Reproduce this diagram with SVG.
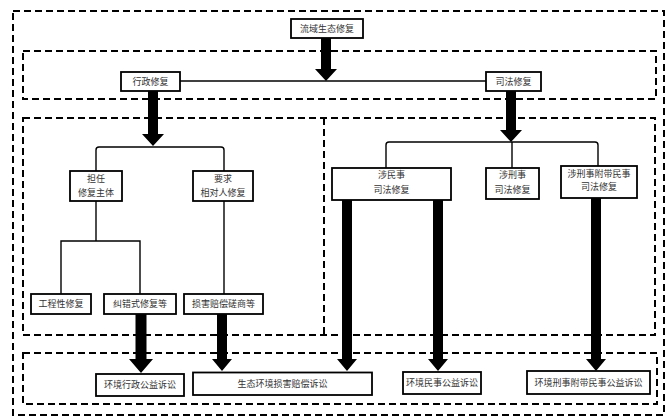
<svg xmlns="http://www.w3.org/2000/svg" width="669" height="420" viewBox="0 0 669 420">
<style>
.bg{fill:#fff}
.dash{fill:none;stroke:#000;stroke-width:2;stroke-dasharray:7 4}
.box{fill:#fff;stroke:#000;stroke-width:1.8}
.ln{fill:none;stroke:#000;stroke-width:1.4}
.arr{fill:#000;stroke:none}
text{font-family:"Noto Sans CJK SC","Noto Sans CJK JP",sans-serif;font-size:9px;fill:#333;text-anchor:middle}
</style>
<rect class="bg" x="0" y="0" width="669" height="420"/>
<g id="regions">
<rect class="dash" x="13" y="11" width="651" height="404"/>
<rect class="dash" x="23" y="51" width="633" height="48"/>
<rect class="dash" x="23" y="118" width="632" height="217"/>
<line class="dash" x1="324" y1="118" x2="324" y2="335"/>
<rect class="dash" x="23" y="353" width="634" height="51"/>
</g>
<g id="connectors">
<path class="ln" d="M180,81 H486"/>
<path class="ln" d="M96,171 V150 Q96,147 99,147 H221 Q224,147 224,150 V171"/>
<path class="ln" d="M96,201 V241"/>
<path class="ln" d="M61,294 V241 H140 V294"/>
<path class="ln" d="M224,201 V294"/>
<path class="ln" d="M386,168 V145 Q386,142 389,142 H595 Q598,142 598,145 V166"/>
<path class="ln" d="M512,142 V168"/>
<path class="arr" d="M321,38 H331 V69 H337 L326,81 L315,69 H321 Z"/>
<path class="arr" d="M148,91 H158 V134 H164 L153,146 L142,134 H148 Z"/>
<path class="arr" d="M506,91 H516 V130 H522 L511,142 L500,130 H506 Z"/>
<path class="arr" d="M135.5,314 H146.5 V359 H153 L141,373 L129,359 H135.5 Z"/>
<path class="arr" d="M217,314 H227 V359 H232 L222,371 L212,359 H217 Z"/>
<path class="arr" d="M342,200 H352 V359 H357 L347,371 L337,359 H342 Z"/>
<path class="arr" d="M433,200 H443 V359 H448 L438,371 L428,359 H433 Z"/>
<path class="arr" d="M591,198 H601 V359 H606 L596,371 L586,359 H591 Z"/>
</g>
<g id="n-liuyu"><rect class="box" x="291" y="19" width="72" height="19"/><text x="327" y="31.8">流域生态修复</text></g>
<g id="n-xingzheng"><rect class="box" x="121" y="72" width="59" height="19"/><text x="150.5" y="84.8">行政修复</text></g>
<g id="n-sifa"><rect class="box" x="486" y="72" width="55" height="19"/><text x="513.5" y="84.8">司法修复</text></g>
<g id="n-danren"><rect class="box" x="70" y="171" width="52" height="30"/><text x="96" y="181.7">担任</text><text x="96" y="195.7">修复主体</text></g>
<g id="n-yaoqiu"><rect class="box" x="193" y="171" width="60" height="30"/><text x="223" y="181.7">要求</text><text x="223" y="195.7">相对人修复</text></g>
<g id="n-gongcheng"><rect class="box" x="31" y="294" width="60" height="20"/><text x="61" y="307.3">工程性修复</text></g>
<g id="n-jiucuo"><rect class="box" x="104" y="294" width="72" height="20"/><text x="140" y="307.3">纠错式修复等</text></g>
<g id="n-sunhai"><rect class="box" x="184" y="294" width="79" height="20"/><text x="223.5" y="307.3">损害赔偿磋商等</text></g>
<g id="n-minshi"><rect class="box" x="332" y="168" width="119" height="32"/><text x="391.5" y="178.4">涉民事</text><text x="391.5" y="193.4">司法修复</text></g>
<g id="n-xingshi"><rect class="box" x="486" y="168" width="53" height="31"/><text x="512.5" y="178.4">涉刑事</text><text x="512.5" y="193.4">司法修复</text></g>
<g id="n-fudai"><rect class="box" x="561" y="166" width="76" height="32"/><text x="599" y="177.4">涉刑事附带民事</text><text x="599" y="190.4">司法修复</text></g>
<g id="n-xingzhengsusong"><rect class="box" x="96" y="374" width="88" height="22"/><text x="140" y="388.3">环境行政公益诉讼</text></g>
<g id="n-peichang"><rect class="box" x="193" y="372.5" width="179" height="22.5"/><text x="282.5" y="387">生态环境损害赔偿诉讼</text></g>
<g id="n-minshisusong"><rect class="box" x="403" y="372" width="78" height="22"/><text x="442" y="386.3">环境民事公益诉讼</text></g>
<g id="n-fudaisusong"><rect class="box" x="527" y="371" width="123" height="23"/><text x="588.5" y="385.8">环境刑事附带民事公益诉讼</text></g>
</svg>
